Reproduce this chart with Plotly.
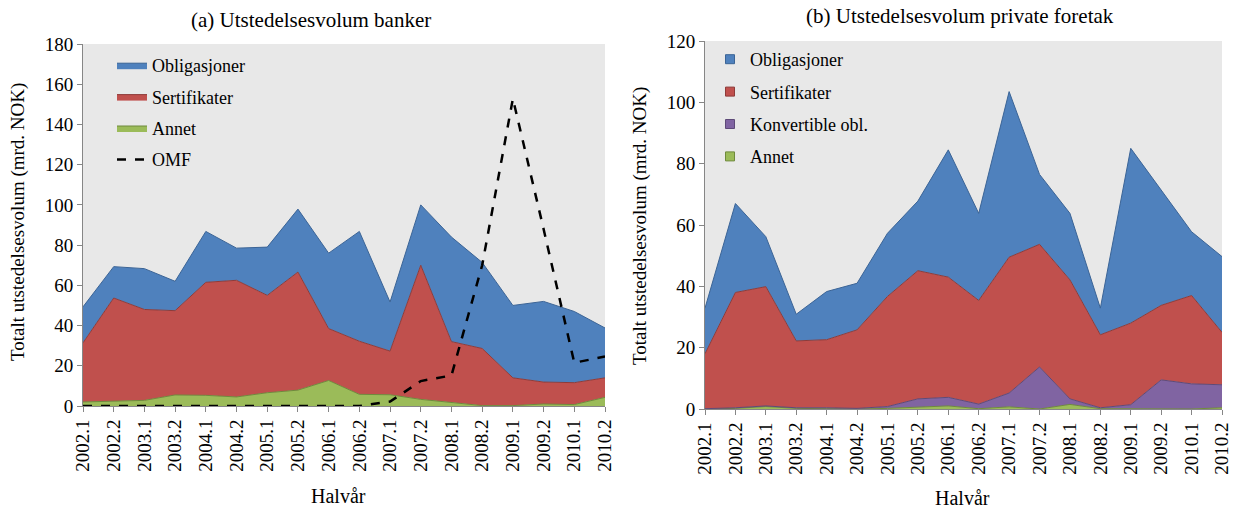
import plotly.graph_objects as go

halvar = ["2002.1", "2002.2", "2003.1", "2003.2", "2004.1", "2004.2", "2005.1", "2005.2", "2006.1",
          "2006.2", "2007.1", "2007.2", "2008.1", "2008.2", "2009.1", "2009.2", "2010.1", "2010.2"]

# (a) banker, mrd. NOK
bank_annet = [2.0, 2.3, 2.8, 5.5, 5.3, 4.5, 6.6, 7.9, 12.7, 5.8, 5.6, 3.3, 1.7, 0.2, 0.2, 1.0, 0.7, 4.3]
bank_sertifikater = [29.4, 51.4, 45.2, 41.9, 56.2, 58.0, 48.4, 58.7, 25.8, 26.4, 21.7, 66.7, 30.3, 28.4,
                     13.8, 10.9, 10.9, 9.7]
bank_obligasjoner = [17.9, 15.6, 20.3, 14.6, 25.3, 16.0, 24.0, 31.3, 37.5, 54.6, 24.4, 30.0, 52.0, 42.8,
                     36.0, 40.1, 35.4, 24.8]
bank_omf = [0, 0, 0, 0, 0, 0, 0, 0, 0, 0, 2.2, 12.4, 15.2, 70.0, 152.8, 88.0, 21.5, 24.6]

# (b) private foretak, mrd. NOK
priv_annet = [0.0, 0.2, 0.8, 0.2, 0.1, 0.0, 0.2, 0.5, 1.0, 0.1, 0.7, 0.0, 1.5, 0.1, 0.0, 0.0, 0.0, 0.4]
priv_konvertible = [0.1, 0.2, 0.2, 0.2, 0.3, 0.2, 0.6, 2.8, 2.8, 1.5, 4.5, 13.7, 1.8, 0.3, 1.4, 9.5, 8.2, 7.5]
priv_sertifikater = [17.9, 37.6, 38.9, 21.8, 22.2, 25.6, 35.9, 41.8, 39.2, 33.8, 44.3, 40.0, 38.8, 23.8,
                     26.6, 24.3, 28.8, 17.1]
priv_obligasjoner = [14.9, 29.0, 16.3, 8.7, 15.7, 15.2, 20.6, 22.7, 41.5, 28.4, 54.0, 22.8, 21.7, 8.7,
                     57.0, 37.7, 20.8, 24.7]

FONT = "Liberation Serif"
W, H = 1237, 508

colors = {
    "Obligasjoner": ("#4F81BD", "#3B6496"),
    "Sertifikater": ("#C0504D", "#8E3B39"),
    "Konvertible obl.": ("#8064A2", "#5E4A78"),
    "Annet": ("#9BBB59", "#6F8A3C"),
}
rank = {"Obligasjoner": 1, "Sertifikater": 2, "Konvertible obl.": 3, "Annet": 4}


def px(x):
    return x / W


def py(y):
    return 1 - y / H


fig = go.Figure()

# left panel: stacked areas
for name, vals in [("Annet", bank_annet), ("Sertifikater", bank_sertifikater),
                   ("Obligasjoner", bank_obligasjoner)]:
    fill, edge = colors[name]
    fig.add_trace(go.Scatter(x=halvar, y=vals, name=name, mode="lines", stackgroup="bank",
                             fillcolor=fill, line=dict(color=edge, width=1),
                             legend="legend", legendgroup="a" + name, legendrank=rank[name],
                             xaxis="x", yaxis="y"))
fig.add_trace(go.Scatter(x=halvar, y=bank_omf, name="OMF", mode="lines",
                         line=dict(color="black", width=2.5, dash="dash"),
                         legend="legend", legendgroup="aOMF", legendrank=5, xaxis="x", yaxis="y"))

# right panel: stacked areas, legend shown as small squares
for name, vals in [("Annet", priv_annet), ("Konvertible obl.", priv_konvertible),
                   ("Sertifikater", priv_sertifikater), ("Obligasjoner", priv_obligasjoner)]:
    fill, edge = colors[name]
    fig.add_trace(go.Scatter(x=halvar, y=vals, name=name, mode="lines", stackgroup="priv",
                             fillcolor=fill, line=dict(color=edge, width=1), showlegend=False,
                             xaxis="x2", yaxis="y2"))
    fig.add_trace(go.Scatter(x=[None], y=[None], name=name, mode="markers",
                             marker=dict(symbol="square", size=9, color=fill, line=dict(color=edge, width=1)),
                             legend="legend2", legendgroup="b" + name, legendrank=rank[name],
                             xaxis="x2", yaxis="y2"))

axis_common = dict(showline=True, linecolor="#868686", linewidth=1, ticks="outside", tickcolor="#868686",
                   ticklen=5, showgrid=False, zeroline=False, automargin=False,
                   tickfont=dict(family=FONT, size=19, color="black"))

fig.update_layout(
    width=W, height=H,
    margin=dict(l=0, r=0, t=0, b=0, pad=0, autoexpand=False),
    paper_bgcolor="white",
    plot_bgcolor="#E8E8E8",
    font=dict(family=FONT, color="black"),
    xaxis=dict(domain=[px(83), px(605)], type="category", range=[0, 17], tickangle=-90, anchor="y",
               **axis_common),
    yaxis=dict(domain=[py(406), py(44)], range=[0, 180], dtick=20, anchor="x", **axis_common),
    xaxis2=dict(domain=[px(705), px(1222)], type="category", range=[0, 17], tickangle=-90, anchor="y2",
                **axis_common),
    yaxis2=dict(domain=[py(409), py(41)], range=[0, 120], dtick=20, anchor="x2", **axis_common),
    legend=dict(x=px(112), y=py(47), xanchor="left", yanchor="top", bgcolor="rgba(0,0,0,0)",
                font=dict(family=FONT, size=18), tracegroupgap=5, itemwidth=30),
    legend2=dict(x=px(710), y=py(41), xanchor="left", yanchor="top", bgcolor="rgba(0,0,0,0)",
                 font=dict(family=FONT, size=18), tracegroupgap=6, itemwidth=30),
    showlegend=True,
)

annotations = [
    dict(x=px(311), y=py(20), text="(a) Utstedelsesvolum banker", size=21, angle=0),
    dict(x=px(960), y=py(16), text="(b) Utstedelsesvolum private foretak", size=21, angle=0),
    dict(x=px(18), y=py(222), text="Totalt utstedelsesvolum (mrd. NOK)", size=19, angle=-90),
    dict(x=px(640), y=py(226), text="Totalt utstedelsesvolum (mrd. NOK)", size=19, angle=-90),
    dict(x=px(338), y=py(496), text="Halvår", size=20, angle=0),
    dict(x=px(962), y=py(498), text="Halvår", size=20, angle=0),
]
for a in annotations:
    fig.add_annotation(x=a["x"], y=a["y"], xref="paper", yref="paper", text=a["text"], showarrow=False,
                       textangle=a["angle"], xanchor="center", yanchor="middle",
                       font=dict(family=FONT, size=a["size"], color="black"))

fig.write_html("out.html", config={"displayModeBar": False},
               post_script="document.body.style.margin='0';")
